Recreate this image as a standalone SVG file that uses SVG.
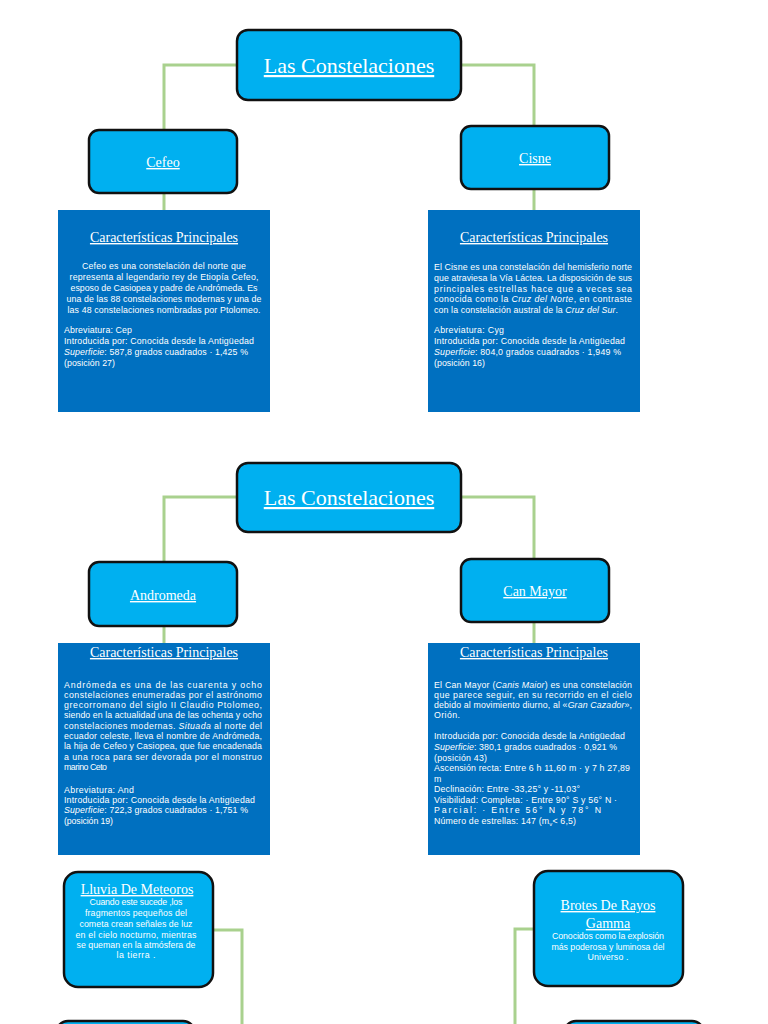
<svg xmlns="http://www.w3.org/2000/svg" width="768" height="1024" viewBox="0 0 768 1024">
<style>
.node{fill:#00b0f0;stroke:#111;stroke-width:2.5}
.panel{fill:#0070c0}
.conn{fill:none;stroke:#a9d18e;stroke-width:3}
.title{font-family:"Liberation Serif",serif;fill:#fff;text-decoration:underline;text-anchor:middle}
.t1{font-size:22px}
.t2{font-size:14px}
.t3{font-size:14px}
.body{font-family:"Liberation Sans",Arial,sans-serif;font-size:8.8px;fill:#fff}
.c{text-anchor:middle}
.i{font-style:italic}
</style>
<rect width="768" height="1024" fill="#fff"/>
<g id="connectors">
<path class="conn" d="M237,65 H164 V130"/>
<path class="conn" d="M461,65 H534 V126"/>
<path class="conn" d="M164,193 V210"/>
<path class="conn" d="M534,189 V210"/>
<path class="conn" d="M237,497 H164 V562"/>
<path class="conn" d="M461,497 H534 V559"/>
<path class="conn" d="M164,626 V643"/>
<path class="conn" d="M534,622 V643"/>
<path class="conn" d="M213,930 H242 V1024"/>
<path class="conn" d="M533,929 H515 V1024"/>
</g>
<g id="root1">
<rect class="node" x="237" y="30" width="224" height="70" rx="11"/>
<text class="title t1" x="349" y="73">Las Constelaciones</text>
</g>
<g id="cefeo">
<rect class="node" x="89" y="130" width="148" height="63" rx="10"/>
<text class="title t2" x="163" y="167">Cefeo</text>
</g>
<g id="cisne">
<rect class="node" x="461" y="126" width="148" height="63" rx="10"/>
<text class="title t2" x="535" y="163">Cisne</text>
</g>
<g id="cefeo-panel">
<rect class="panel" x="58" y="210" width="212" height="202"/>
<text class="title t3" x="164" y="242">Características Principales</text>
<g class="body c">
<text x="164" y="269" textLength="164" lengthAdjust="spacing">Cefeo es una constelación del norte que</text>
<text x="164" y="280" textLength="189" lengthAdjust="spacing">representa al legendario rey de Etiopía Cefeo,</text>
<text x="164" y="291" textLength="187" lengthAdjust="spacing">esposo de Casiopea y padre de Andrómeda. Es</text>
<text x="164" y="302" textLength="195" lengthAdjust="spacing">una de las 88 constelaciones modernas y una de</text>
<text x="164" y="313" textLength="193" lengthAdjust="spacing">las 48 constelaciones nombradas por Ptolomeo.</text>
</g>
<g class="body">
<text x="64" y="333" textLength="68" lengthAdjust="spacing">Abreviatura: Cep</text>
<text x="64" y="344" textLength="190" lengthAdjust="spacing">Introducida por: Conocida desde la Antigüedad</text>
<text x="64" y="355" textLength="184" lengthAdjust="spacing"><tspan class="i">Superficie</tspan>: 587,8 grados cuadrados · 1,425 %</text>
<text x="64" y="366" textLength="51" lengthAdjust="spacing">(posición 27)</text>
</g>
</g>
<g id="cisne-panel">
<rect class="panel" x="428" y="210" width="212" height="202"/>
<text class="title t3" x="534" y="242">Características Principales</text>
<g class="body">
<text x="434" y="270" textLength="198" lengthAdjust="spacing">El Cisne es una constelación del hemisferio norte</text>
<text x="434" y="281" textLength="198" lengthAdjust="spacing">que atraviesa la Vía Láctea. La disposición de sus</text>
<text x="434" y="292" textLength="198" lengthAdjust="spacing">principales estrellas hace que a veces sea</text>
<text x="434" y="302" textLength="198" lengthAdjust="spacing">conocida como la <tspan class="i">Cruz del Norte</tspan>, en contraste</text>
<text x="434" y="313" textLength="184" lengthAdjust="spacing">con la constelación austral de la <tspan class="i">Cruz del Sur</tspan>.</text>
<text x="434" y="333" textLength="70" lengthAdjust="spacing">Abreviatura: Cyg</text>
<text x="434" y="344" textLength="191" lengthAdjust="spacing">Introducida por: Conocida desde la Antigüedad</text>
<text x="434" y="355" textLength="187" lengthAdjust="spacing"><tspan class="i">Superficie</tspan>: 804,0 grados cuadrados · 1,949 %</text>
<text x="434" y="366" textLength="51" lengthAdjust="spacing">(posición 16)</text>
</g>
</g>
<g id="root2">
<rect class="node" x="237" y="463" width="224" height="69" rx="11"/>
<text class="title t1" x="349" y="505">Las Constelaciones</text>
</g>
<g id="andromeda">
<rect class="node" x="89" y="562" width="148" height="64" rx="10"/>
<text class="title t2" x="163" y="600">Andromeda</text>
</g>
<g id="canmayor">
<rect class="node" x="461" y="559" width="148" height="63" rx="10"/>
<text class="title t2" x="535" y="596">Can Mayor</text>
</g>
<g id="andromeda-panel">
<rect class="panel" x="58" y="643" width="212" height="212"/>
<text class="title t3" x="164" y="657">Características Principales</text>
<g class="body">
<text x="64" y="688" textLength="198" lengthAdjust="spacing">Andrómeda es una de las cuarenta y ocho</text>
<text x="64" y="698" textLength="198" lengthAdjust="spacing">constelaciones enumeradas por el astrónomo</text>
<text x="64" y="708" textLength="198" lengthAdjust="spacing">grecorromano del siglo II Claudio Ptolomeo,</text>
<text x="64" y="718" textLength="198" lengthAdjust="spacing">siendo en la actualidad una de las ochenta y ocho</text>
<text x="64" y="729" textLength="198" lengthAdjust="spacing">constelaciones modernas. <tspan class="i">Situada</tspan> al norte del</text>
<text x="64" y="739" textLength="198" lengthAdjust="spacing">ecuador celeste, lleva el nombre de Andrómeda,</text>
<text x="64" y="749" textLength="198" lengthAdjust="spacing">la hija de Cefeo y Casiopea, que fue encadenada</text>
<text x="64" y="760" textLength="198" lengthAdjust="spacing">a una roca para ser devorada por el monstruo</text>
<text x="64" y="770" textLength="43" lengthAdjust="spacing">marino Ceto</text>
<text x="64" y="793" textLength="70" lengthAdjust="spacing">Abreviatura: And</text>
<text x="64" y="803" textLength="191" lengthAdjust="spacing">Introducida por: Conocida desde la Antigüedad</text>
<text x="64" y="813" textLength="184" lengthAdjust="spacing"><tspan class="i">Superficie</tspan>: 722,3 grados cuadrados · 1,751 %</text>
<text x="64" y="824" textLength="49" lengthAdjust="spacing">(posición 19)</text>
</g>
</g>
<g id="canmayor-panel">
<rect class="panel" x="428" y="643" width="212" height="212"/>
<text class="title t3" x="534" y="657">Características Principales</text>
<g class="body">
<text x="434" y="688" textLength="198" lengthAdjust="spacing">El Can Mayor (<tspan class="i">Canis Maior</tspan>) es una constelación</text>
<text x="434" y="698" textLength="198" lengthAdjust="spacing">que parece seguir, en su recorrido en el cielo</text>
<text x="434" y="708" textLength="198" lengthAdjust="spacing">debido al movimiento diurno, al «<tspan class="i">Gran Cazador</tspan>»,</text>
<text x="434" y="718" textLength="26" lengthAdjust="spacing">Orión.</text>
<text x="434" y="739" textLength="191" lengthAdjust="spacing">Introducida por: Conocida desde la Antigüedad</text>
<text x="434" y="750" textLength="183" lengthAdjust="spacing"><tspan class="i">Superficie</tspan>: 380,1 grados cuadrados · 0,921 %</text>
<text x="434" y="761" textLength="53" lengthAdjust="spacing">(posición 43)</text>
<text x="434" y="771" textLength="196" lengthAdjust="spacing">Ascensión recta: Entre 6 h 11,60 m · y 7 h 27,89</text>
<text x="434" y="782">m</text>
<text x="434" y="792" textLength="146" lengthAdjust="spacing">Declinación: Entre -33,25° y -11,03°</text>
<text x="434" y="803" textLength="183" lengthAdjust="spacing">Visibilidad: Completa: · Entre 90° S y 56° N ·</text>
<text x="434" y="813" textLength="167" lengthAdjust="spacing">Parcial: · Entre 56° N y 78° N</text>
<text x="434" y="824" textLength="142" lengthAdjust="spacing">Número de estrellas: 147 (m<tspan font-size="6" dy="2">v</tspan><tspan dy="-2">&lt; 6,5)</tspan></text>
</g>
</g>
<g id="lluvia">
<rect class="node" x="64" y="872" width="149" height="115" rx="14"/>
<text class="title t2" x="137" y="894">Lluvia De Meteoros</text>
<g class="body c">
<text x="136" y="905" textLength="93" lengthAdjust="spacing">Cuando este sucede ,los</text>
<text x="136" y="916" textLength="102" lengthAdjust="spacing">fragmentos pequeños del</text>
<text x="136" y="927" textLength="113" lengthAdjust="spacing">cometa crean señales de luz</text>
<text x="136" y="938" textLength="121" lengthAdjust="spacing">en el cielo nocturno, mientras</text>
<text x="136" y="948" textLength="119" lengthAdjust="spacing">se queman en la atmósfera de</text>
<text x="136" y="958" textLength="39" lengthAdjust="spacing">la tierra .</text>
</g>
</g>
<g id="brotes">
<rect class="node" x="534" y="871" width="149" height="115" rx="14"/>
<text class="title t2" x="608" y="910">Brotes De Rayos</text>
<text class="title t2" x="608" y="928">Gamma</text>
<g class="body c">
<text x="608" y="939" textLength="112" lengthAdjust="spacing">Conocidos como la explosión</text>
<text x="608" y="950" textLength="113" lengthAdjust="spacing">más poderosa y luminosa del</text>
<text x="608" y="960" textLength="41" lengthAdjust="spacing">Universo .</text>
</g>
</g>
<g id="bottom-left">
<rect class="node" x="56" y="1021" width="139" height="60" rx="12"/>
</g>
<g id="bottom-right">
<rect class="node" x="564" y="1021" width="140" height="60" rx="12"/>
</g>
</svg>
